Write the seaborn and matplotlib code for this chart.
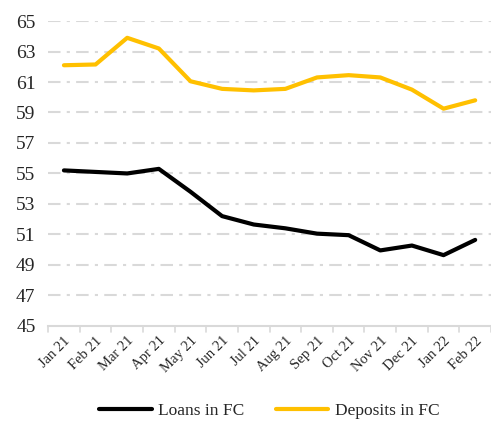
import matplotlib
matplotlib.use("Agg")
import matplotlib.pyplot as plt
import seaborn as sns
import pandas as pd
import numpy as np

months = ["Jan 21", "Feb 21", "Mar 21", "Apr 21", "May 21", "Jun 21", "Jul 21",
          "Aug 21", "Sep 21", "Oct 21", "Nov 21", "Dec 21", "Jan 22", "Feb 22"]
loans = [55.2, 55.1, 55.0, 55.3, 53.8, 52.2, 51.65, 51.4, 51.05, 50.95, 49.95, 50.27, 49.64, 50.64]
deposits = [62.1, 62.15, 63.9, 63.2, 61.05, 60.55, 60.45, 60.55, 61.3, 61.45, 61.3, 60.5, 59.25, 59.8]
yticks = [45, 47, 49, 51, 53, 55, 57, 59, 61, 63, 65]

sns.set_theme(style="white")
plt.rcParams['font.family'] = ['Liberation Serif', 'DejaVu Serif']

df = pd.DataFrame({
    "month": months * 2,
    "x": list(range(len(months))) * 2,
    "value": loans + deposits,
    "series": ["Loans in FC"] * len(months) + ["Deposits in FC"] * len(months),
})

fig = plt.figure(figsize=(4.91, 4.21), dpi=100)
ax = fig.add_axes([0.098, 0.226, 0.902, 0.724])
sns.lineplot(data=df, x="x", y="value", hue="series",
             palette={"Loans in FC": "#000000", "Deposits in FC": "#FFC000"},
             linewidth=3, ax=ax, legend=True)

ax.set_xlim(-0.5, len(months) - 0.5)
ax.set_ylim(45, 65)
ax.set_yticks(yticks)
ax.set_yticklabels([str(t) for t in yticks], fontsize=14)
ax.set_xticks(range(len(months)))
ax.set_xticklabels(months, rotation=45, ha="right", rotation_mode="anchor", fontsize=10.5)
ax.tick_params(axis="x", length=0, pad=6)
ax.tick_params(axis="y", length=0, pad=9)
for b in np.arange(-0.5, len(months) + 0.5, 1):
    ax.plot([b, b], [45, 44.6], color="#D9D9D9", lw=1.2, clip_on=False)
for t in yticks[1:]:
    ax.axhline(t, color="#D9D9D9", lw=1.5, dashes=(6, 3, 1.5, 3), zorder=0)
for s in ["left", "right", "top"]:
    ax.spines[s].set_visible(False)
ax.spines["bottom"].set_color("#D9D9D9")
ax.spines["bottom"].set_linewidth(1.5)
ax.set_xlabel("")
ax.set_ylabel("")

h, l = ax.get_legend_handles_labels()
ax.legend(h, l, loc="upper center", bbox_to_anchor=(0.5, -0.2), ncol=2, frameon=False,
          fontsize=12.5, handlelength=3.0, columnspacing=1.8, handletextpad=0.4)

fig.savefig("out.png", dpi=100)
